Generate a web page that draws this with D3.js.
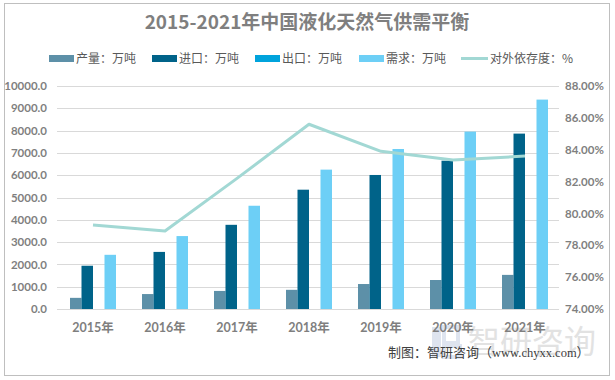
<!DOCTYPE html>
<html><head><meta charset="utf-8">
<script src="https://cdn.jsdelivr.net/npm/d3@7/dist/d3.min.js"></script>
<style>
html,body{margin:0;padding:0;background:#fff;}
svg{display:block;}
</style></head>
<body><svg id="c" width="615" height="380"></svg>
<script>
const years = ["2015年","2016年","2017年","2018年","2019年","2020年","2021年"];
const production = [500, 670, 810, 860, 1120, 1300, 1530];
const imports = [1940, 2560, 3775, 5350, 6010, 6650, 7865];
const exportsV = [0, 0, 0, 0, 0, 0, 0];
const demand = [2430, 3270, 4630, 6250, 7175, 7955, 9390];
const dependence = [79.27, 78.9, 82.2, 85.6, 83.9, 83.35, 83.6];
const leftTicks = [0,1000,2000,3000,4000,5000,6000,7000,8000,9000,10000];
const rightTicks = [74,76,78,80,82,84,86,88];
const seriesNames = ["产量：万吨","进口：万吨","出口：万吨","需求：万吨"];
const seriesColors = ["#5d90a8","#006389","#00a3dc","#6dcff6"];
const lineName = "对外依存度：%";
const lineColor = "#a2d8d4";
const title = "2015-2021年中国液化天然气供需平衡";
const source = "制图：智研咨询（";
const sourceUrl = "www.chyxx.com";

(function(){
const svg = d3.select("#c");
const cjk = "'Noto Sans CJK SC', sans-serif";
const num = "Lato, 'Noto Sans CJK SC', sans-serif";

svg.append("rect").attr("x",4.5).attr("y",3.5).attr("width",605).attr("height",372)
  .attr("fill","#fff").attr("stroke","#bfbfbf").attr("stroke-width",1);

const pL = 57, pR = 561, pT = 86, pB = 309;
const x0 = d3.scaleBand().domain(years).range([pL,pR]).padding(0);
const groupW = 46;
const x1 = d3.scaleBand().domain(d3.range(4)).range([0,groupW]).padding(0);
const yL = d3.scaleLinear().domain([0,10000]).range([pB,pT]);
const yR = d3.scaleLinear().domain([74,88]).range([pB,pT]);

// watermark
const wm = svg.append("g").attr("opacity",0.6);
wm.append("rect").attr("x",432).attr("y",327).attr("width",9).attr("height",30).attr("fill","#c9d3e6");
wm.append("path").attr("d","M444 327 h14 v16 h-14 z M444 346 h16 v11 h-16 z").attr("fill","none").attr("stroke","#c9d3e6").attr("stroke-width",4);
wm.append("text").attr("x",468).attr("y",353).attr("font-family",cjk).attr("font-size",32)
  .attr("fill","#cfcfcf").text("智研咨询");

svg.append("g").selectAll("line").data(leftTicks).join("line")
  .attr("x1",pL).attr("x2",pR-2).attr("y1",d=>Math.round(yL(d))+0.5).attr("y2",d=>Math.round(yL(d))+0.5)
  .attr("stroke","#d9d9d9").attr("stroke-width",1);

const axL = d3.axisLeft(yL).tickValues(leftTicks).tickFormat(d=>d.toFixed(1)).tickSize(0).tickPadding(0);
const gL = svg.append("g").attr("transform",`translate(${pL-10},0)`).call(axL);
gL.select(".domain").remove();
gL.selectAll("text").attr("font-family",num).attr("font-size",11.5).attr("font-weight","bold").attr("fill","#7f7f7f");

const axR = d3.axisRight(yR).tickValues(rightTicks).tickFormat(d=>d.toFixed(2)+"%").tickSize(0).tickPadding(0);
const gR = svg.append("g").attr("transform",`translate(${pR+4},0)`).call(axR);
gR.select(".domain").remove();
gR.selectAll("text").attr("font-family",num).attr("font-size",11.5).attr("font-weight","bold").attr("fill","#7f7f7f");

const axB = d3.axisBottom(x0).tickSize(0).tickPadding(0);
const gB = svg.append("g").attr("transform",`translate(0,${pB+14})`).call(axB);
gB.select(".domain").remove();
gB.selectAll("text").attr("font-family",num).attr("font-size",12.5).attr("font-weight","bold").attr("fill","#7f7f7f");

const seriesData = [production, imports, exportsV, demand];
const gBars = svg.append("g");
seriesData.forEach((vals,si)=>{
  gBars.selectAll(null).data(vals).join("rect")
    .attr("x",(d,i)=>x0(years[i]) + (x0.bandwidth()-groupW)/2 + x1(si))
    .attr("width",x1.bandwidth())
    .attr("y",d=>yL(d)).attr("height",d=>pB - yL(d))
    .attr("fill",seriesColors[si]);
});

svg.append("line").attr("x1",pL).attr("x2",pR-2).attr("y1",pB+0.5).attr("y2",pB+0.5).attr("stroke","#d9d9d9");

const line = d3.line().x((d,i)=>x0(years[i])+x0.bandwidth()/2).y(d=>yR(d));
svg.append("path").datum(dependence).attr("d",line).attr("fill","none")
  .attr("stroke",lineColor).attr("stroke-width",3).attr("stroke-linejoin","round");

svg.append("text").attr("x",307).attr("y",29).attr("text-anchor","middle")
  .attr("font-family",cjk).attr("font-size",19).attr("font-weight","bold").attr("fill","#7f7f7f").text(title);

const legX = [49,152,255,359,461];
const lg = svg.append("g");
seriesNames.forEach((n,i)=>{
  lg.append("rect").attr("x",legX[i]).attr("y",55).attr("width",25).attr("height",7).attr("fill",seriesColors[i]);
  lg.append("text").attr("x",legX[i]+27).attr("y",63).attr("font-family",cjk).attr("font-size",12).attr("fill","#595959").text(n);
});
lg.append("line").attr("x1",legX[4]).attr("x2",legX[4]+27).attr("y1",58.5).attr("y2",58.5).attr("stroke",lineColor).attr("stroke-width",3);
lg.append("text").attr("x",legX[4]+29).attr("y",63).attr("font-family",cjk).attr("font-size",12).attr("fill","#595959").text(lineName);

const st = svg.append("text").attr("x",388).attr("y",357).attr("font-family",cjk).attr("font-size",13).attr("fill","#404040");
st.append("tspan").text(source);
st.append("tspan").attr("font-family","'Liberation Serif', serif").attr("font-size",12.5).text(sourceUrl);
st.append("tspan").text("）");
})();
</script></body></html>
